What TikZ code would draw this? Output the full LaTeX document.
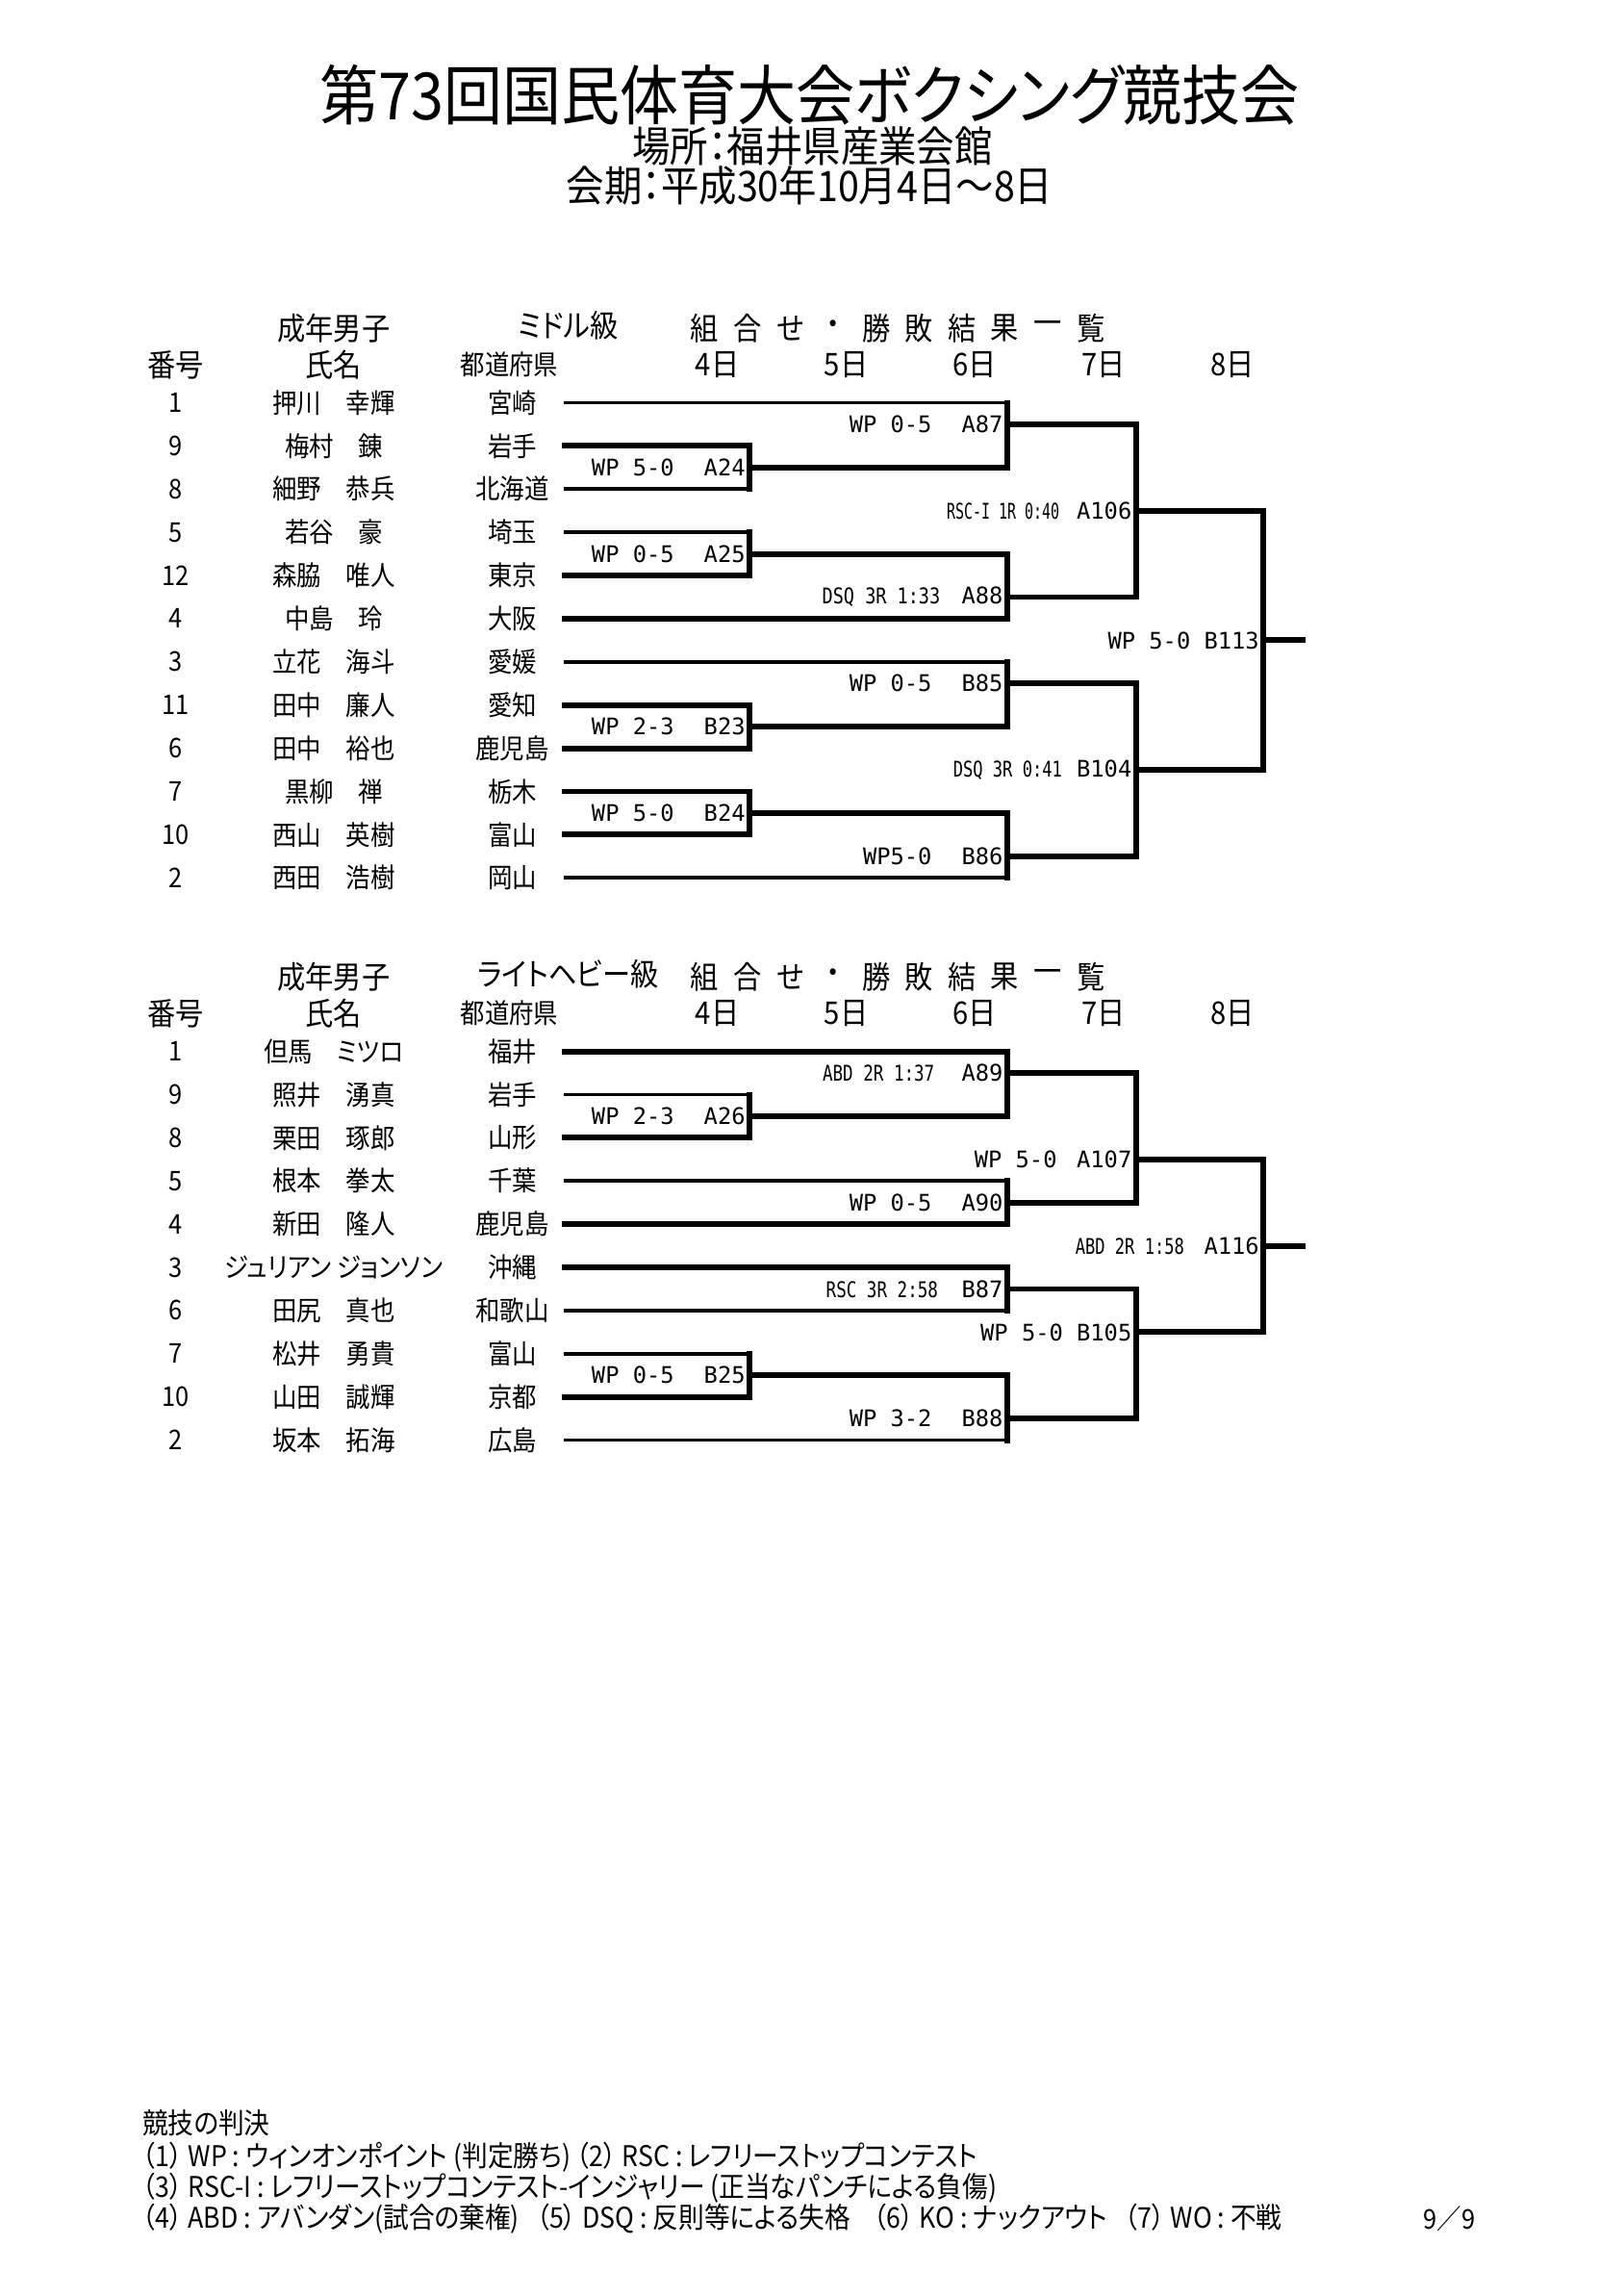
\documentclass[tikz,border=0pt]{standalone}
\usepackage{fontspec}
\usepackage{graphicx}
\setmainfont{Noto Sans CJK JP}[FakeStretch=0.9,RawFeature=+palt]
\newfontfamily\resfont{DejaVu Sans Mono}
\newcommand{\squeeze}[2]{\scalebox{#1}[0.95]{#2}}
\tikzset{
    win/.style={line width=2.1pt,line cap=rect},
    lose/.style={line width=1.3pt,line cap=rect},
    cell/.style={inner sep=0pt,font=\fontsize{10}{12}\selectfont},
    head/.style={inner sep=0pt,font=\fontsize{11.5}{13}\selectfont},
    res/.style={anchor=east,inner sep=1.4pt,font=\resfont\fontsize{8.4}{10}\selectfont},
    foot/.style={anchor=west,inner sep=0pt,font=\fontsize{10.5}{12}\selectfont}
}
\begin{document}
    \begin{tikzpicture}[x=0.018936cm,y=-0.018936cm]
        \useasboundingbox (0,0) rectangle (1109,1568);
        \node[font=\fontsize{24}{28}\selectfont] (title) at (553,65) {第73回国民体育大会ボクシング競技会};
        \node[font=\fontsize{15.5}{18}\selectfont] (venue) at (555,100) {場所：福井県産業会館};
        \node[font=\fontsize{15.5}{18}\selectfont] (dates) at (553,127) {会期：平成30年10月4日～8日};

        \foreach \s/\cls/\hy in {A/ミドル級/224, B/ライトヘビー級/667} {
            \node[head] (sex\s) at (228,\hy) {成年男子};
            \node[head] (cls\s) at (388,\hy-2) {\cls};
            \foreach \c [count=\j] in {組,合,せ,・,勝,敗,結,果,一,覧}
                \node[head] (kw\s\j) at ({452+29.3*\j},\hy) {\c};
            \node[head] (no\s) at (120,\hy+25) {番号};
            \node[head] (nm\s) at (228,\hy+25) {氏名};
            \node[cell] (pf\s) at (348,\hy+25) {都道府県};
            \foreach \d [count=\j] in {4,...,8}
                \node[head] (day\s\j) at ({402+88*\j},\hy+25) {{\d}日};
        }

        \foreach \no/\nm/\pf [count=\i] in {1/押川　幸輝/宮崎, 9/梅村　錬/岩手, 8/細野　恭兵/北海道, 5/若谷　豪/埼玉, 12/森脇　唯人/東京, 4/中島　玲/大阪, 3/立花　海斗/愛媛, 11/田中　廉人/愛知, 6/田中　裕也/鹿児島, 7/黒柳　禅/栃木, 10/西山　英樹/富山, 2/西田　浩樹/岡山} {
            \node[cell] (noA\i) at (120,{275+29.5*(\i-1)}) {\no};
            \node[cell] (nmA\i) at (228,{275+29.5*(\i-1)}) {\nm};
            \node[cell] (pfA\i) at (350,{275+29.5*(\i-1)}) {\pf};
            \coordinate (u\i) at (386,{275+29.5*(\i-1)});
        }
        \foreach \no/\nm/\pf [count=\i] in {1/但馬　ミツロ/福井, 9/照井　湧真/岩手, 8/栗田　琢郎/山形, 5/根本　拳太/千葉, 4/新田　隆人/鹿児島, 3/ジュリアン ジョンソン/沖縄, 6/田尻　真也/和歌山, 7/松井　勇貴/富山, 10/山田　誠輝/京都, 2/坂本　拓海/広島} {
            \node[cell] (noB\i) at (120,{718+29.5*(\i-1)}) {\no};
            \node[cell] (nmB\i) at (228,{718+29.5*(\i-1)}) {\nm};
            \node[cell] (pfB\i) at (350,{718+29.5*(\i-1)}) {\pf};
            \coordinate (l\i) at (386,{718+29.5*(\i-1)});
        }

        \foreach \p/\q/\m/\x/\k/\wa/\wb in {u2/u3/A24/512/2.5/win/lose, u4/u5/A25/512/4.5/lose/win, u8/u9/B23/512/8.5/win/win, u10/u11/B24/512/10.5/win/win, u1/A24/A87/688/1.5/lose/win, A25/u6/A88/688/5.5/win/win, u7/B23/B85/688/7.5/lose/win, B24/u12/B86/688/11.5/win/lose, A87/A88/A106/776/3.5/win/win, B85/B86/B104/776/9.5/win/win, A106/B104/B113/863/6.5/win/win} {
            \coordinate (\m) at (\x,{275+29.5*(\k-1)});
            \draw[\wa] (\p) -- (\p -| \m);
            \draw[\wb] (\q) -- (\q -| \m);
            \draw[win] (\p -| \m) -- (\q -| \m);
        }
        \foreach \p/\q/\m/\x/\k/\wa/\wb in {l2/l3/A26/512/2.5/lose/win, l1/A26/A89/688/1.5/win/win, l4/l5/A90/688/4.5/lose/win, l6/l7/B87/688/6.5/win/lose, l8/l9/B25/512/8.5/lose/win, B25/l10/B88/688/9.5/win/lose, A89/A90/A107/776/3.5/win/win, B87/B88/B105/776/7.5/win/win, A107/B105/A116/863/5.5/win/win} {
            \coordinate (\m) at (\x,{718+29.5*(\k-1)});
            \draw[\wa] (\p) -- (\p -| \m);
            \draw[\wb] (\q) -- (\q -| \m);
            \draw[win] (\p -| \m) -- (\q -| \m);
        }
        \coordinate (fin) at (890,0);
        \draw[win] (B113) -- (B113 -| fin);
        \draw[win] (A116) -- (A116 -| fin);

        \foreach \m/\d in {A24/WP 5-0, A25/WP 0-5, B23/WP 2-3, B24/WP 5-0, A87/WP 0-5, B85/WP 0-5, B86/WP5-0, A26/WP 2-3, A90/WP 0-5, B25/WP 0-5, B88/WP 3-2}
            \node[res] (t\m) at (\m) {\d\hspace{11pt}\m};
        \node[res] (tA88) at (A88) {\squeeze{0.78}{DSQ 3R 1:33}\hspace{7.9pt}A88};
        \node[res] (tA106) at (A106) {\squeeze{0.63}{RSC-I 1R 0:40}\hspace{6.4pt}A106};
        \node[res] (tB104) at (B104) {\squeeze{0.72}{DSQ 3R 0:41}\hspace{5.4pt}B104};
        \node[res] (tB113) at (B113) {WP 5-0 B113};
        \node[res] (tA89) at (A89) {\squeeze{0.74}{ABD 2R 1:37}\hspace{10pt}A89};
        \node[res] (tA107) at (A107) {WP 5-0\hspace{7.3pt}A107};
        \node[res] (tB87) at (B87) {\squeeze{0.74}{RSC 3R 2:58}\hspace{8.7pt}B87};
        \node[res] (tB105) at (B105) {WP 5-0 B105};
        \node[res] (tA116) at (A116) {\squeeze{0.72}{ABD 2R 1:58}\hspace{7.3pt}A116};

        \node[foot] (rule0) at (97,1450) {競技の判決};
        \node[foot] (rule1) at (97,1473) {（1） WP : ウィンオンポイント (判定勝ち) （2） RSC : レフリーストップコンテスト};
        \node[foot] (rule2) at (97,1494) {（3） RSC-I : レフリーストップコンテスト-インジャリー~(正当なパンチによる負傷)};
        \node[foot] (rule3) at (97,1515) {（4） ABD : アバンダン(試合の棄権)~~~（5） DSQ : 反則等による失格~~~~（6） KO : ナックアウト~~~（7） WO : 不戦};
        \node[cell] (page) at (990,1515) {9／9};
    \end{tikzpicture}
\end{document}
